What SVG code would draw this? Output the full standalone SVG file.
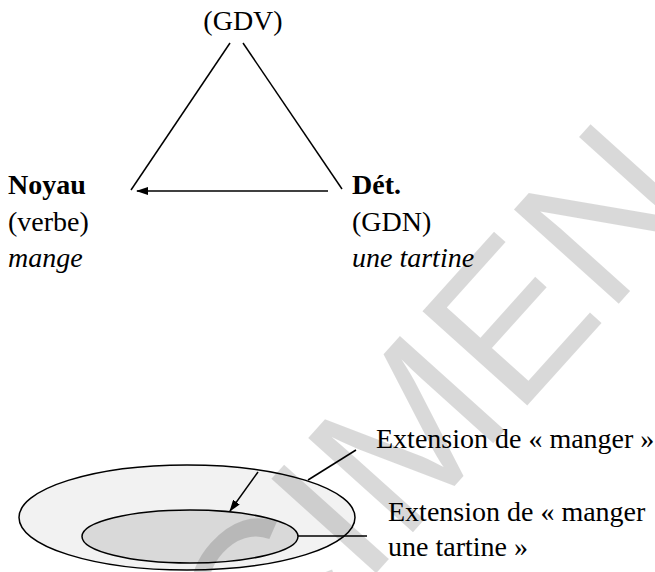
<svg xmlns="http://www.w3.org/2000/svg" width="655" height="572" viewBox="0 0 655 572">
  <defs>
    <marker id="arrow" viewBox="0 0 12 8" refX="11" refY="4" markerWidth="12" markerHeight="8" markerUnits="userSpaceOnUse" orient="auto">
      <path d="M0,0 L12,4 L0,8 Z" fill="#000"/>
    </marker>
    <style>
      text { font-family: "Liberation Serif", "Times New Roman", serif; font-size: 28px; fill: #000; }
      .b { font-weight: bold; }
      .i { font-style: italic; }
      .ln { stroke: #000; stroke-width: 1.5; fill: none; }
      .wm { font-family: "Liberation Sans", Arial, sans-serif; font-size: 205px; fill: #000; fill-opacity: 0.15; }
    </style>
  </defs>
  <rect width="655" height="572" fill="#fff"/>

  <g id="node-gdv">
    <text x="243" y="30" text-anchor="middle">(GDV)</text>
  </g>
  <g id="node-noyau">
    <text x="8" y="194" class="b">Noyau</text>
    <text x="8" y="231">(verbe)</text>
    <text x="8" y="267" class="i">mange</text>
  </g>
  <g id="node-det">
    <text x="352" y="194" class="b">Dét.</text>
    <text x="352" y="231">(GDN)</text>
    <text x="352" y="267" class="i">une tartine</text>
  </g>

  <g id="node-ext-manger">
    <ellipse cx="187" cy="517.5" rx="168" ry="52.5" fill="#f2f2f2" stroke="#000" stroke-width="1.5"/>
    <text x="376" y="448">Extension de « manger »</text>
  </g>
  <g id="node-ext-tartine">
    <ellipse cx="190" cy="536.5" rx="108" ry="26.5" fill="#d9d9d9" stroke="#000" stroke-width="1.5"/>
    <text x="388" y="521">Extension de « manger</text>
    <text x="388" y="556">une tartine »</text>
  </g>

  <g id="connectors">
    <line class="ln" x1="230" y1="43" x2="131" y2="190"/>
    <line class="ln" x1="243" y1="43" x2="342" y2="189"/>
    <line class="ln" x1="328" y1="191" x2="137" y2="191" marker-end="url(#arrow)"/>
    <line class="ln" x1="258" y1="472" x2="230" y2="511" marker-end="url(#arrow)"/>
    <line class="ln" x1="308" y1="480" x2="356" y2="450"/>
    <line class="ln" x1="298" y1="536" x2="367" y2="536"/>
  </g>

  <text class="wm" transform="translate(-10,1002) rotate(-48)" x="0" y="0">SPECIMEN</text>
</svg>
